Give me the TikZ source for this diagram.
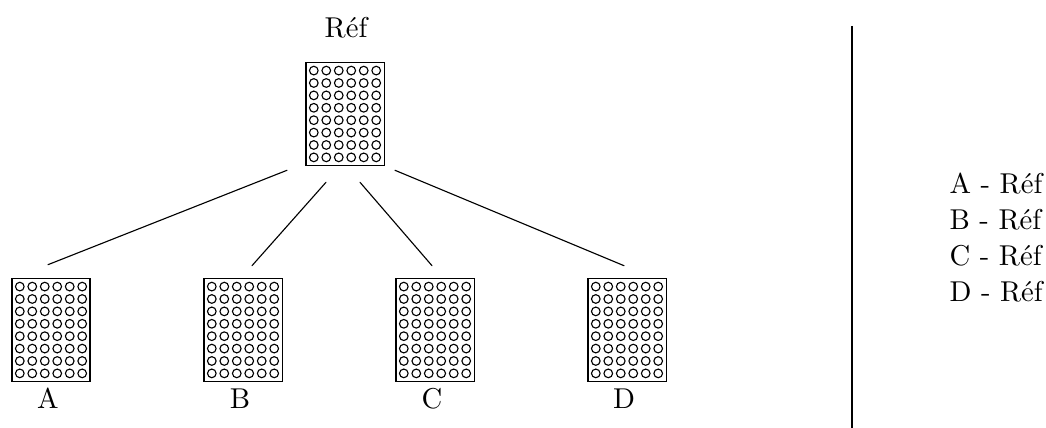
\documentclass[tikz,border=0pt]{standalone}
\usepackage{amsmath,amsfonts,amssymb}
\tikzstyle{NodePlate}=[rectangle,draw,line width=.5pt,inner sep=0pt,minimum width=.98cm,minimum height=1.29cm]
\tikzstyle{NodeLabel}=[inner sep=0pt,anchor=base,font=\fontsize{10.2}{12}\selectfont]
\tikzstyle{NodeDiff}=[inner sep=0pt,anchor=base west,font=\fontsize{10.2}{12}\selectfont]
\tikzstyle{EdgePlate}=[cap=round]
\tikzstyle{WellPlate}=[line width=.4pt]
\newcommand{\DrawPlate}[2]{
        \node[NodePlate](#1)at(#2){};
        \foreach \i in {-2.5,...,2.5}
            \foreach \j in {-3.5,...,3.5}
                \draw[WellPlate]([shift={(\i*.156,\j*.155)}]#1.center)circle(.054);
}
\begin{document}
\begin{tikzpicture}
        \useasboundingbox(0,0)rectangle(13.075,5.35);
        \DrawPlate{ref}{4.3125,3.925}
        \DrawPlate{a}{.6375,1.225}
        \DrawPlate{b}{3.0375,1.225}
        \DrawPlate{c}{5.4375,1.225}
        \DrawPlate{d}{7.8375,1.225}
        \node[NodeLabel](lref)at(4.325,4.875){Réf};
        \node[NodeLabel](la)at(.6,.2375){A};
        \node[NodeLabel](lb)at(3,.2375){B};
        \node[NodeLabel](lc)at(5.4,.2375){C};
        \node[NodeLabel](ld)at(7.8,.2375){D};
        \coordinate(refa)at([shift={(-.725,-.05)}]ref.south);
        \coordinate(refb)at([shift={(-.2375,-.2)}]ref.south);
        \coordinate(refc)at([shift={(.1875,-.2)}]ref.south);
        \coordinate(refd)at([shift={(.625,-.05)}]ref.south);
        \coordinate(topa)at([shift={(-.0375,.1625)}]a.north);
        \coordinate(topb)at([shift={(.1125,.15)}]b.north);
        \coordinate(topc)at([shift={(-.0375,.15)}]c.north);
        \coordinate(topd)at([shift={(-.0375,.15)}]d.north);
        \draw[EdgePlate](refa)--(topa);
        \draw[EdgePlate](refb)--(topb);
        \draw[EdgePlate](refc)--(topc);
        \draw[EdgePlate](refd)--(topd);
        \coordinate(septop)at(10.65,5.025);
        \coordinate(sepbot)at(10.65,0);
        \draw(septop)--(sepbot);
        \node[NodeDiff](da)at(11.8625,2.925){A - Réf};
        \node[NodeDiff](db)at(11.8625,2.475){B - Réf};
        \node[NodeDiff](dc)at(11.8625,2.025){C - Réf};
        \node[NodeDiff](dd)at(11.8625,1.575){D - Réf};
    \end{tikzpicture}
\end{document}
